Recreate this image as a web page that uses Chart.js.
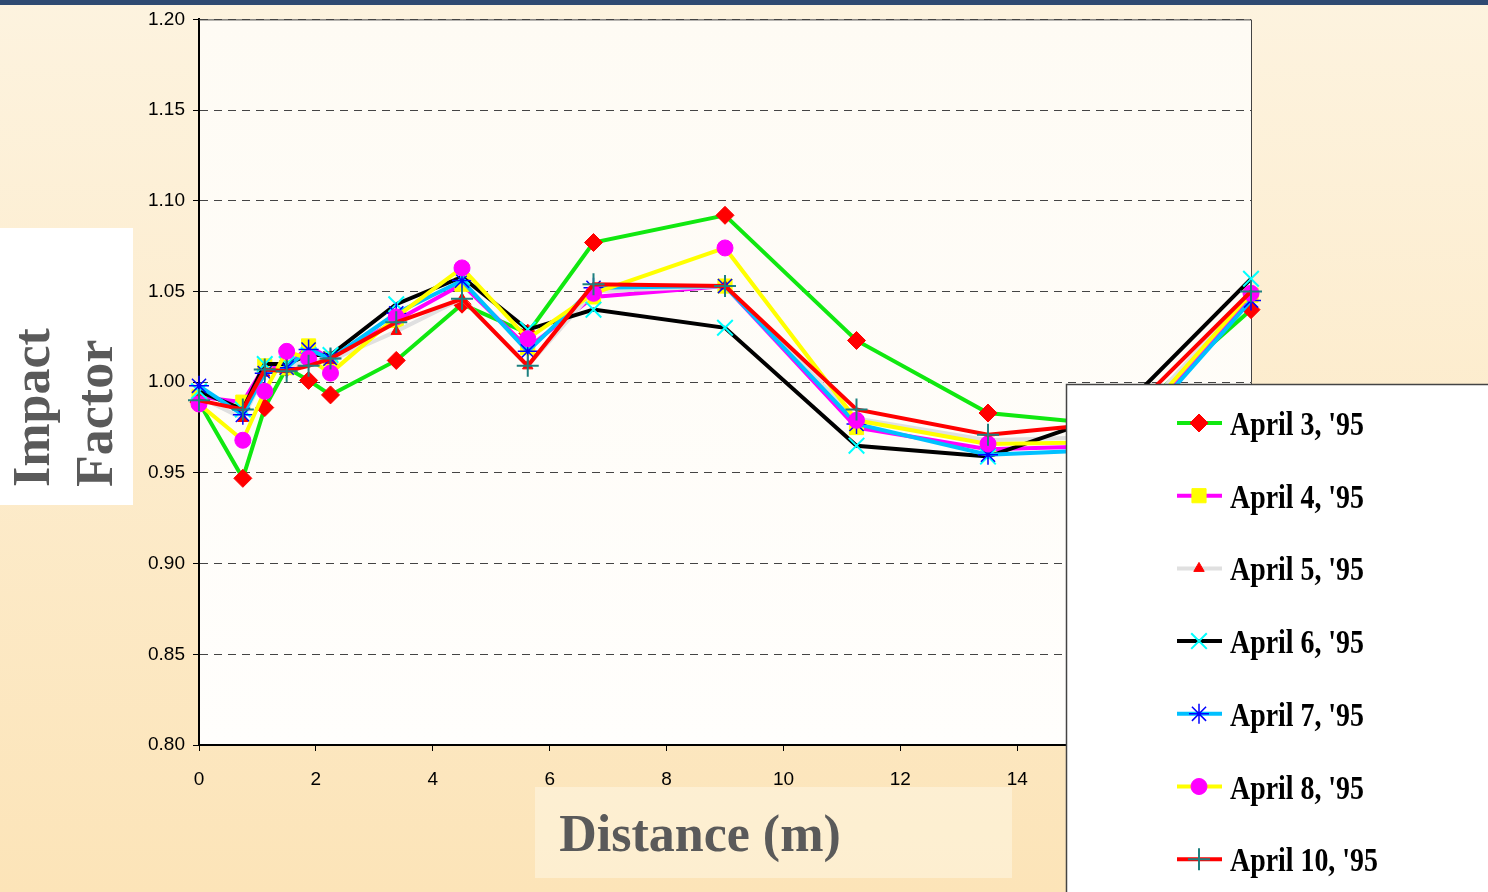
<!DOCTYPE html>
<html lang="en">
<head>
  <meta charset="UTF-8" />
  <title>Impact Factor vs Distance</title>
  <script src="https://cdn.jsdelivr.net/npm/chart.js"></script>
  <style>
    body {
      margin: 0;
      padding: 0;
      background: #fdf3df;
    }
    #wrap {
      width: 1488px;
      height: 892px;
    }
  </style>
</head>
<body>
  <div id="wrap">
    <canvas id="impactChart" width="1488" height="892"></canvas>
  </div>

  <script>
    // distance along the span (m)
    const distance = [0, 0.75, 1.125, 1.5, 1.875, 2.25, 3.375, 4.5, 5.625, 6.75, 9, 11.25, 13.5, 15.75, 18];

    const seriesNames = ["April 3, '95", "April 4, '95", "April 5, '95", "April 6, '95", "April 7, '95", "April 8, '95", "April 10, '95"];

    const apr3  = [0.989, 0.947, 0.986, 1.008, 1.001, 0.993, 1.012, 1.043, 1.027, 1.077, 1.092, 1.023, 0.983, 0.976, 1.040];
    const apr4  = [0.992, 0.989, 1.009, 1.008, 1.020, 1.013, 1.034, 1.054, 1.019, 1.047, 1.053, 0.975, 0.963, 0.965, 1.048];
    const apr5  = [0.992, 0.980, 1.005, 1.008, 1.012, 1.012, 1.028, 1.046, 1.009, 1.050, 1.053, 0.980, 0.968, 0.970, 1.050];
    const apr6  = [0.995, 0.985, 1.010, 1.010, 1.015, 1.015, 1.043, 1.058, 1.029, 1.040, 1.030, 0.965, 0.959, 0.984, 1.057];
    const apr7  = [0.998, 0.982, 1.005, 1.008, 1.018, 1.013, 1.038, 1.056, 1.017, 1.052, 1.053, 0.977, 0.960, 0.963, 1.045];
    const apr8  = [0.988, 0.968, 0.995, 1.017, 1.013, 1.005, 1.036, 1.063, 1.024, 1.049, 1.074, 0.979, 0.966, 0.967, 1.049];
    const apr10 = [0.990, 0.985, 1.007, 1.006, 1.009, 1.013, 1.033, 1.046, 1.009, 1.054, 1.053, 0.985, 0.971, 0.978, 1.050];

    const allSeries = [apr3, apr4, apr5, apr6, apr7, apr8, apr10];

    const xTicks = [0, 2, 4, 6, 8, 10, 12, 14, 16, 18];
    const yTicks = [0.80, 0.85, 0.90, 0.95, 1.00, 1.05, 1.10, 1.15, 1.20];

    // line colour, marker shape, marker colour, marker size, marker line width
    const looks = [
      { line: "#10e810", shape: "rectRot",  mark: "#ff0000", r: 9,  bw: 1 },
      { line: "#ff00ff", shape: "rect",     mark: "#ffff00", r: 10, bw: 1 },
      { line: "#e0e0e0", shape: "triangle", mark: "#ff0000", r: 6,  bw: 1 },
      { line: "#000000", shape: "crossRot", mark: "#00ffff", r: 11, bw: 2 },
      { line: "#00c0ff", shape: "star",     mark: "#0000ff", r: 10, bw: 1.5 },
      { line: "#ffff00", shape: "circle",   mark: "#ff00ff", r: 8,  bw: 1 },
      { line: "#ff0000", shape: "cross",    mark: "#1e8080", r: 11, bw: 2 }
    ];

    const datasets = allSeries.map((vals, i) => ({
      label: seriesNames[i],
      data: distance.map((d, k) => ({ x: d, y: vals[k] })),
      borderColor: looks[i].line,
      borderWidth: 4,
      backgroundColor: looks[i].mark,
      pointStyle: looks[i].shape,
      pointRadius: looks[i].r,
      pointBackgroundColor: looks[i].mark,
      pointBorderColor: looks[i].mark,
      pointBorderWidth: looks[i].bw,
      tension: 0,
      clip: false,
      order: allSeries.length - i
    }));

    // page background, plot area, boxes behind the axis titles
    const backdrop = {
      id: "backdrop",
      beforeDraw(chart) {
        const { ctx, chartArea: a } = chart;
        ctx.save();
        const g = ctx.createLinearGradient(0, 0, 0, 892);
        g.addColorStop(0, "#fdf3df");
        g.addColorStop(1, "#fce4b8");
        ctx.fillStyle = g;
        ctx.fillRect(0, 0, 1488, 892);
        ctx.fillStyle = "#2f4a72";
        ctx.fillRect(0, 0, 1488, 5);

        const pg = ctx.createLinearGradient(0, a.top, 0, a.bottom);
        pg.addColorStop(0, "#fefbf4");
        pg.addColorStop(1, "#fffefc");
        ctx.fillStyle = pg;
        ctx.fillRect(a.left, a.top, a.right - a.left, a.bottom - a.top);

        ctx.fillStyle = "#ffffff";
        ctx.fillRect(0, 228, 133, 277);
        ctx.fillStyle = "rgba(255,250,238,0.45)";
        ctx.fillRect(535, 787, 477, 91);
        ctx.restore();
      },
      beforeDatasetsDraw(chart) {
        const { ctx, chartArea: a } = chart;
        ctx.save();
        ctx.strokeStyle = "#444";
        ctx.lineWidth = 1;
        ctx.beginPath();
        ctx.moveTo(a.left, a.top + 0.5);
        ctx.lineTo(a.right + 0.5, a.top + 0.5);
        ctx.lineTo(a.right + 0.5, a.bottom);
        ctx.stroke();
        ctx.restore();
      },
      afterDraw(chart) {
        const ctx = chart.ctx;
        ctx.save();
        // axis titles
        ctx.fillStyle = "#5a5a5a";
        ctx.font = "bold 52px 'Liberation Serif', 'Times New Roman', serif";
        ctx.textAlign = "center";
        ctx.textBaseline = "alphabetic";
        ctx.fillText("Distance (m)", 700, 851);

        ctx.textAlign = "left";
        ctx.translate(49, 487);
        ctx.rotate(-Math.PI / 2);
        ctx.fillText("Impact", 0, 0);
        ctx.fillText("Factor", 0, 63);
        ctx.restore();

        // legend box
        ctx.save();
        ctx.fillStyle = "#ffffff";
        ctx.fillRect(1066, 384, 430, 520);
        ctx.strokeStyle = "#444";
        ctx.lineWidth = 1.5;
        ctx.strokeRect(1066.5, 384.5, 430, 520);

        chart.data.datasets.forEach((ds, i) => {
          const y = 423 + i * 72.7;
          const lk = looks[i];
          ctx.strokeStyle = lk.line;
          ctx.lineWidth = 4;
          ctx.beginPath();
          ctx.moveTo(1177, y);
          ctx.lineTo(1222, y);
          ctx.stroke();

          ctx.fillStyle = lk.mark;
          ctx.strokeStyle = lk.mark;
          ctx.lineWidth = lk.bw;
          Chart.helpers.drawPoint(ctx, { pointStyle: lk.shape, radius: lk.r, rotation: 0, borderWidth: lk.bw }, 1199, y);

          ctx.save();
          ctx.fillStyle = "#000";
          ctx.font = "bold 34px 'Liberation Serif', 'Times New Roman', serif";
          ctx.textAlign = "left";
          ctx.textBaseline = "alphabetic";
          ctx.translate(1230, y + 12);
          ctx.scale(0.82, 1);
          ctx.fillText(ds.label, 0, 0);
          ctx.restore();
        });
        ctx.restore();
      }
    };

    const tickFont = { family: "'Liberation Sans', Arial, sans-serif", size: 19 };

    new Chart(document.getElementById("impactChart").getContext("2d"), {
      type: "line",
      data: { datasets },
      options: {
        responsive: false,
        animation: false,
        layout: { padding: { left: 0, top: 19, right: 237, bottom: 0 } },
        plugins: {
          legend: { display: false },
          tooltip: { enabled: false }
        },
        scales: {
          x: {
            type: "linear",
            min: 0,
            max: 18,
            afterBuildTicks: s => { s.ticks = xTicks.map(v => ({ value: v })); },
            afterFit: s => { s.height = 147; },
            ticks: { color: "#000", font: tickFont, padding: 17, maxRotation: 0 },
            grid: { drawOnChartArea: false, tickLength: 6, tickColor: "#000", tickWidth: 1, z: -1 },
            border: { color: "#000", width: 2 }
          },
          y: {
            min: 0.8,
            max: 1.2,
            afterBuildTicks: s => { s.ticks = yTicks.map(v => ({ value: v })); },
            afterFit: s => { s.width = 199; },
            ticks: { color: "#000", font: tickFont, padding: 8, callback: v => v.toFixed(2) },
            grid: { color: "#444", lineWidth: 1, tickLength: 6, tickColor: "#000", tickBorderDash: [], z: -1 },
            border: { color: "#000", width: 2, dash: [8, 6] }
          }
        }
      },
      plugins: [backdrop]
    });
  </script>
</body>
</html>
